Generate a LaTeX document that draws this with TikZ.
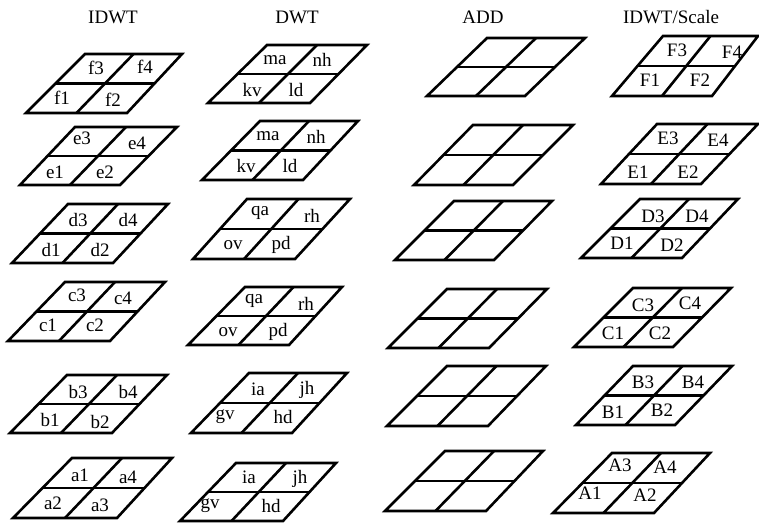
\documentclass[tikz,border=0pt]{standalone}
\usepackage{fontspec}
\setmainfont{Liberation Serif}
\usetikzlibrary{calc}
\tikzset{
  cell/.style={line width=2.6pt, line join=miter, black},
  lab/.style={inner sep=0pt, font=\fontsize{19}{19}\selectfont},
  ttl/.style={inner sep=0pt, font=\fontsize{19}{19}\selectfont}
}
% #1 top y, #2 top-left x, #3 top-right x, #4 bottom y, #5 bottom-left x, #6 bottom-right x
\newcommand\pgram[6]{%
  \draw[cell] (#2,#1) -- (#3,#1) -- (#6,#4) -- (#5,#4) -- cycle;
  \draw[cell] ($(#5,#4)!0.5!(#2,#1)$) -- ($(#6,#4)!0.5!(#3,#1)$);
  \draw[cell] ($(#2,#1)!0.5!(#3,#1)$) -- ($(#5,#4)!0.5!(#6,#4)$);
}
\begin{document}
\begin{tikzpicture}[x=1pt,y=-1pt]
\useasboundingbox[fill=white] (0,0) rectangle (759,522);
% titles
\node[ttl] (tIDWT) at (113,17) {IDWT};
\node[ttl] (tDWT) at (297,17) {DWT};
\node[ttl] (tADD) at (483,17) {ADD};
\node[ttl] (tSCL) at (671,17) {IDWT/Scale};
% IDWT column
\pgram{54}{85}{182}{113}{26}{127}
\pgram{127}{75}{177}{185}{20}{120}
\pgram{204}{68}{168}{263}{12}{113}
\pgram{282}{65}{165}{341}{8}{110}
\pgram{375}{67}{167}{433}{10}{112}
\pgram{458}{72}{172}{518}{13}{117}
% DWT column
\pgram{45}{267}{367}{103}{208}{310}
\pgram{121}{260}{358}{180}{202}{303}
\pgram{199}{247}{350}{259}{193}{295}
\pgram{287}{245}{342}{345}{188}{289}
\pgram{373}{249}{347}{433}{191}{292}
\pgram{463}{236}{336}{521}{180}{283}
% ADD column
\pgram{38}{487}{585}{96}{427}{525}
\pgram{125}{473}{573}{185}{414}{513}
\pgram{201}{454}{552}{260}{395}{494}
\pgram{289}{447}{547}{348}{388}{489}
\pgram{366}{447}{546}{426}{387}{488}
\pgram{451}{445}{543}{511}{385}{486}
% IDWT/Scale column
\pgram{36}{663}{758}{96}{612}{712}
\pgram{124}{657}{758}{184}{601}{701}
\pgram{199}{640}{738}{258}{581}{682}
\pgram{288}{633}{731}{347}{574}{673}
\pgram{366}{633}{732}{425}{576}{675}
\pgram{453}{612}{710}{513}{553}{654}
% labels IDWT
\node[lab] (f3) at (96,68) {f3};  \node[lab] (f4) at (145,67) {f4};
\node[lab] (f1) at (62,98) {f1};  \node[lab] (f2) at (113,100) {f2};
\node[lab] (e3) at (82,138) {e3}; \node[lab] (e4) at (137,143) {e4};
\node[lab] (e1) at (55,172) {e1}; \node[lab] (e2) at (105,172) {e2};
\node[lab] (d3) at (78,220) {d3}; \node[lab] (d4) at (128,220) {d4};
\node[lab] (d1) at (51,250) {d1}; \node[lab] (d2) at (100,250) {d2};
\node[lab] (c3) at (77,295) {c3}; \node[lab] (c4) at (123,298) {c4};
\node[lab] (c1) at (48,325) {c1}; \node[lab] (c2) at (95,325) {c2};
\node[lab] (b3) at (78,392) {b3}; \node[lab] (b4) at (128,392) {b4};
\node[lab] (b1) at (50,420) {b1}; \node[lab] (b2) at (100,422) {b2};
\node[lab] (a1) at (80,475) {a1}; \node[lab] (a4) at (128,477) {a4};
\node[lab] (a2) at (53,503) {a2}; \node[lab] (a3) at (100,505) {a3};
% labels DWT
\node[lab] (ma1) at (275,60) {ma}; \node[lab] (nh1) at (322,60) {nh};
\node[lab] (kv1) at (252,90) {kv}; \node[lab] (ld1) at (296,90) {ld};
\node[lab] (ma2) at (268,136) {ma}; \node[lab] (nh2) at (316,137) {nh};
\node[lab] (kv2) at (246,166) {kv}; \node[lab] (ld2) at (290,166) {ld};
\node[lab] (qa1) at (260,213) {qa}; \node[lab] (rh1) at (312,216) {rh};
\node[lab] (ov1) at (233,245) {ov}; \node[lab] (pd1) at (281,245) {pd};
\node[lab] (qa2) at (254,301) {qa}; \node[lab] (rh2) at (306,304) {rh};
\node[lab] (ov2) at (228,332) {ov}; \node[lab] (pd2) at (278,332) {pd};
\node[lab] (ia1) at (258,389) {ia}; \node[lab] (jh1) at (307,390) {jh};
\node[lab] (gv1) at (225,417) {gv}; \node[lab] (hd1) at (283,417) {hd};
\node[lab] (ia2) at (249,477) {ia}; \node[lab] (jh2) at (300,479) {jh};
\node[lab] (gv2) at (210,506) {gv}; \node[lab] (hd2) at (271,506) {hd};
% labels IDWT/Scale
\node[lab] (F3) at (677,50) {F3}; \node[lab] (F4) at (732,52) {F4};
\node[lab] (F1) at (650,80) {F1}; \node[lab] (F2) at (700,80) {F2};
\node[lab] (E3) at (668,138) {E3}; \node[lab] (E4) at (718,140) {E4};
\node[lab] (E1) at (638,172) {E1}; \node[lab] (E2) at (688,172) {E2};
\node[lab] (D3) at (653,216) {D3}; \node[lab] (D4) at (697,216) {D4};
\node[lab] (D1) at (622,243) {D1}; \node[lab] (D2) at (672,245) {D2};
\node[lab] (C3) at (643,305) {C3}; \node[lab] (C4) at (690,303) {C4};
\node[lab] (C1) at (613,333) {C1}; \node[lab] (C2) at (660,333) {C2};
\node[lab] (B3) at (643,382) {B3}; \node[lab] (B4) at (693,382) {B4};
\node[lab] (B1) at (613,412) {B1}; \node[lab] (B2) at (662,410) {B2};
\node[lab] (A3) at (620,465) {A3}; \node[lab] (A4) at (665,467) {A4};
\node[lab] (A1) at (590,493) {A1}; \node[lab] (A2) at (645,495) {A2};
\end{tikzpicture}
\end{document}
